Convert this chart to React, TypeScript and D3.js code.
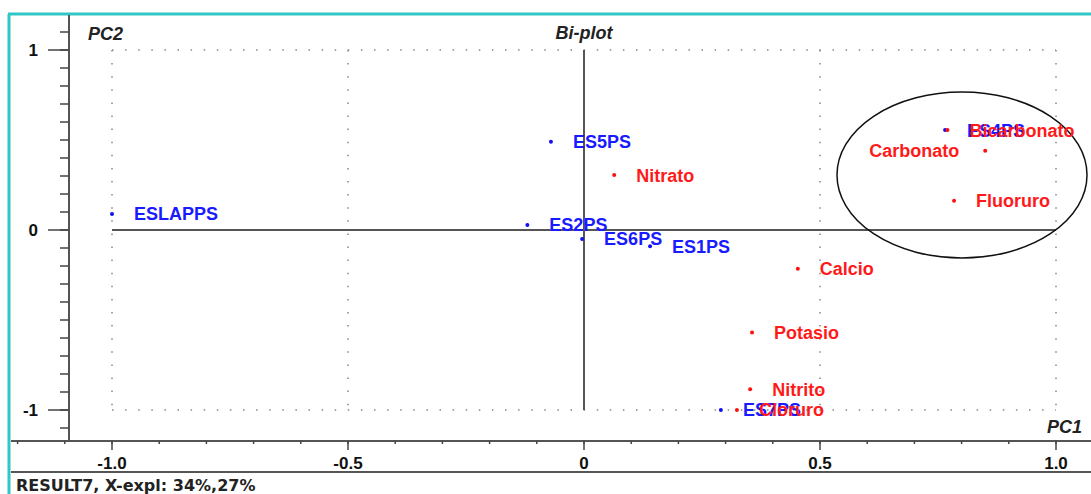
import React from 'react';
import * as d3 from 'd3';

// objects (blue) and variables (red) of the bi-plot
const objectNames = ['ESLAPPS', 'ES5PS', 'ES2PS', 'ES6PS', 'ES1PS', 'ES4PS', 'ES7PS'];
const objectPC1 = [-1.0, -0.07, -0.12, -0.004, 0.14, 0.765, 0.29];
const objectPC2 = [0.089, 0.49, 0.028, -0.05, -0.09, 0.555, -1.0];

const variableNames = ['Nitrato', 'Bicarbonato', 'Carbonato', 'Fluoruro', 'Calcio', 'Potasio', 'Nitrito', 'Cloruro'];
const variablePC1 = [0.064, 0.77, 0.85, 0.784, 0.453, 0.356, 0.352, 0.324];
const variablePC2 = [0.305, 0.555, 0.44, 0.163, -0.215, -0.57, -0.885, -1.0];
// Carbonato label sits on the left of its point
const labelLeft = ['Carbonato'];

const xMajor = [-1.0, -0.5, 0, 0.5, 1.0];
const xMajorLabels = ['-1.0', '-0.5', '0', '0.5', '1.0'];
const yMajor = [1, 0, -1];
const yMajorLabels = ['1', '0', '-1'];

const W = 1091;
const H = 494;
const FONT = '"Liberation Sans", Arial, sans-serif';

const App = () => {
  const x = d3.scaleLinear().domain([-1, 1]).range([112, 1056]);
  const y = d3.scaleLinear().domain([-1, 1]).range([410, 50]);

  const axisTop = 14;
  const axisY = 441;
  const axisX = 69;
  const bottomLine = 472;

  const xMinor = d3.range(-12, 11).map(d => d / 10);
  const yMinor = d3.range(-11, 12).map(d => d / 10);

  const dotted = { stroke: '#888', strokeWidth: 1.5, strokeDasharray: '1.5 11.6' };

  return (
    <svg width={W} height={H} style={{ position: 'absolute', left: 0, top: 0, background: '#fff' }} fontFamily={FONT}>
      {/* window frame */}
      <line x1={8} x2={W} y1={axisTop} y2={axisTop} stroke="#33c6c6" strokeWidth={3} />
      <line x1={9} x2={9} y1={axisTop} y2={H} stroke="#33c6c6" strokeWidth={3} />
      <line x1={11} x2={W} y1={axisY} y2={axisY} stroke="#555" strokeWidth={2} />
      <line x1={11} x2={W} y1={bottomLine} y2={bottomLine} stroke="#555" strokeWidth={2} />
      <line x1={axisX} x2={axisX} y1={axisTop + 1} y2={axisY} stroke="#555" strokeWidth={2} />

      {/* y ticks */}
      {yMinor.map(v => (
        <line key={'ym' + v} x1={axisX - 9} x2={axisX} y1={y(v)} y2={y(v)} stroke="#444" strokeWidth={1.5} />
      ))}
      {yMajor.map((v, i) => (
        <g key={'yM' + v}>
          <line x1={axisX - 21} x2={axisX} y1={y(v)} y2={y(v)} stroke="#444" strokeWidth={1.5} />
          <text x={38} y={y(v)} dy="0.36em" textAnchor="end" fontSize={17} fontWeight="bold" fill="#111">
            {yMajorLabels[i]}
          </text>
        </g>
      ))}

      {/* x ticks */}
      {xMinor.map(v => (
        <line key={'xm' + v} x1={x(v)} x2={x(v)} y1={axisY} y2={axisY + 3} stroke="#444" strokeWidth={1.5} />
      ))}
      {xMajor.map((v, i) => (
        <g key={'xM' + v}>
          <line x1={x(v)} x2={x(v)} y1={axisY} y2={axisY + 9} stroke="#444" strokeWidth={1.5} />
          <text x={x(v)} y={469} textAnchor="middle" fontSize={17} fontWeight="bold" fill="#111">
            {xMajorLabels[i]}
          </text>
        </g>
      ))}

      {/* dotted frame and grid */}
      <line x1={x(-1)} x2={x(1)} y1={y(1)} y2={y(1)} style={dotted} />
      <line x1={x(-1)} x2={x(1)} y1={y(-1)} y2={y(-1)} style={dotted} />
      {[-1, -0.5, 0.5, 1].map(v => (
        <line key={'g' + v} x1={x(v)} x2={x(v)} y1={y(1)} y2={y(-1)} style={dotted} />
      ))}

      {/* solid axes through origin */}
      <line x1={x(-1)} x2={x(1)} y1={y(0)} y2={y(0)} stroke="#555" strokeWidth={2} />
      <line x1={x(0)} x2={x(0)} y1={y(1)} y2={y(-1)} stroke="#555" strokeWidth={2} />

      {/* titles */}
      <text x={88} y={40} fontSize={18} fontWeight="bold" fontStyle="italic" fill="#222">PC2</text>
      <text x={x(0)} y={39} textAnchor="middle" fontSize={18} fontWeight="bold" fontStyle="italic" fill="#222">Bi-plot</text>
      <text x={1082} y={433} textAnchor="end" fontSize={18} fontWeight="bold" fontStyle="italic" fill="#222">PC1</text>

      {/* ellipse around the cluster */}
      <ellipse cx={962} cy={175} rx={125} ry={83} fill="none" stroke="#111" strokeWidth={1.5} />

      {/* objects */}
      {objectNames.map((n, i) => (
        <g key={n}>
          <circle cx={x(objectPC1[i])} cy={y(objectPC2[i])} r={2} fill="#1010f0" />
          <text x={x(objectPC1[i]) + 22} y={y(objectPC2[i])} dy="0.36em" fontSize={18} fontWeight="bold" fill="#1a1aff">
            {n}
          </text>
        </g>
      ))}

      {/* variables */}
      {variableNames.map((n, i) => {
        const left = labelLeft.includes(n);
        return (
          <g key={n}>
            <circle cx={x(variablePC1[i])} cy={y(variablePC2[i])} r={2} fill="#ff1010" />
            <text
              x={x(variablePC1[i]) + (left ? -26 : 22)}
              y={y(variablePC2[i])}
              dy="0.36em"
              textAnchor={left ? 'end' : 'start'}
              fontSize={18}
              fontWeight="bold"
              fill="#ff1a1a"
            >
              {n}
            </text>
          </g>
        );
      })}

      {/* status line */}
      <text x={16} y={491} fontSize={16} fontWeight="bold" fontFamily='"DejaVu Sans", sans-serif' fill="#222">
        RESULT7, X-expl: 34%,27%
      </text>
    </svg>
  );
};

export default App;
